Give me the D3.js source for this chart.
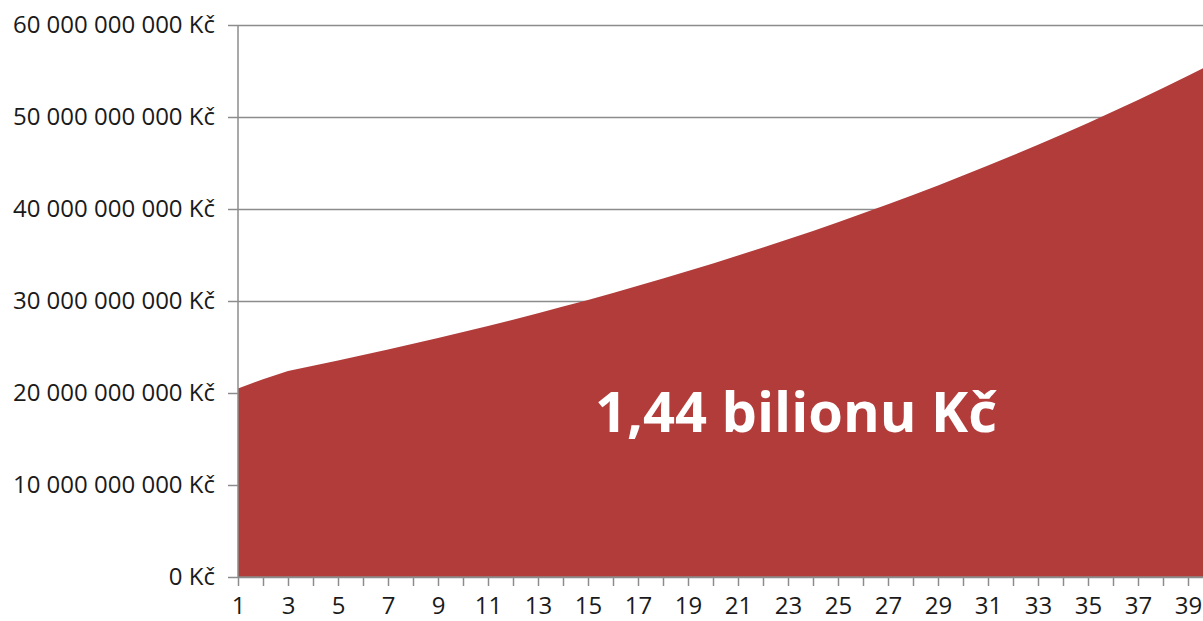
<!DOCTYPE html>
<html>
<head>
<meta charset="utf-8">
<title>1,44 bilionu Kč</title>
<script src="https://d3js.org/d3.v7.min.js"></script>
<style>
  body { margin: 0; background: #fff; }
  svg { display: block; font-family: "Open Sans", sans-serif; }
  .axis text { fill: #1a1a1a; font-size: 24px; font-family: "Open Sans", sans-serif; }
  .axis path, .axis line { stroke: #8c8c8c; stroke-width: 1.5px; }
</style>
</head>
<body>
<div id="chart"></div>
<script>
// years 1..40
var years = d3.range(1, 41);
// values in billions Kč
var valuesBn = [
  20.5, 21.5, 22.4, 22.96, 23.53, 24.12, 24.72, 25.34, 25.98, 26.63,
  27.29, 27.97, 28.67, 29.39, 30.12, 30.88, 31.65, 32.44, 33.25, 34.08,
  34.94, 35.81, 36.7, 37.62, 38.56, 39.53, 40.51, 41.53, 42.56, 43.63,
  44.72, 45.84, 46.98, 48.16, 49.36, 50.59, 51.86, 53.15, 54.48, 55.84
];
var yTicks = [0, 10e9, 20e9, 30e9, 40e9, 50e9, 60e9];
var totalLabel = "1,44 bilionu Kč";

var width = 1203, height = 621;
var margin = { top: 25, right: -10, bottom: 44, left: 238 };

var svg = d3.select('#chart').append('svg')
  .attr('width', width)
  .attr('height', height);

var x = d3.scaleLinear()
  .domain([1, 40])
  .range([margin.left, width - margin.right]);

var y = d3.scaleLinear()
  .domain([0, 60e9])
  .range([height - margin.bottom, margin.top]);

var data = years.map(function (d, i) { return { year: d, value: valuesBn[i] * 1e9 }; });

function fmt(v) {
  return d3.format(',')(v).replace(/,/g, ' ') + ' Kč';
}

// gridlines + y axis
var yAxis = svg.append('g')
  .attr('class', 'axis y')
  .attr('transform', 'translate(' + margin.left + ',0)')
  .call(d3.axisLeft(y).tickValues(yTicks).tickFormat(fmt).tickSize(10).tickPadding(13));
yAxis.select('.domain').remove();
yAxis.selectAll('.tick').append('line')
  .attr('x1', 0).attr('x2', width);

// area
var area = d3.area()
  .x(function (d) { return x(d.year); })
  .y0(y(0))
  .y1(function (d) { return y(d.value); });

svg.append('path')
  .datum(data)
  .attr('fill', '#b23c3a')
  .attr('d', area);

// x axis
var xAxis = svg.append('g')
  .attr('class', 'axis x')
  .attr('transform', 'translate(0,' + y(0) + ')')
  .call(d3.axisBottom(x).tickValues(years).tickSize(9)
    .tickFormat(function (d) { return d % 2 === 1 ? d : ''; }));
xAxis.select('.domain').attr('d', 'M' + margin.left + ',0H' + width);
xAxis.selectAll('.tick text').attr('y', 37).attr('dy', 0);

// y axis line
svg.append('line')
  .attr('x1', margin.left).attr('x2', margin.left)
  .attr('y1', y(60e9)).attr('y2', y(0))
  .attr('stroke', '#8c8c8c').attr('stroke-width', 1.5);

// total label
svg.append('text')
  .attr('x', 796)
  .attr('y', 432)
  .attr('text-anchor', 'middle')
  .attr('fill', '#fff')
  .attr('font-weight', 'bold')
  .attr('font-size', '56px')
  .text(totalLabel);
</script>
</body>
</html>
